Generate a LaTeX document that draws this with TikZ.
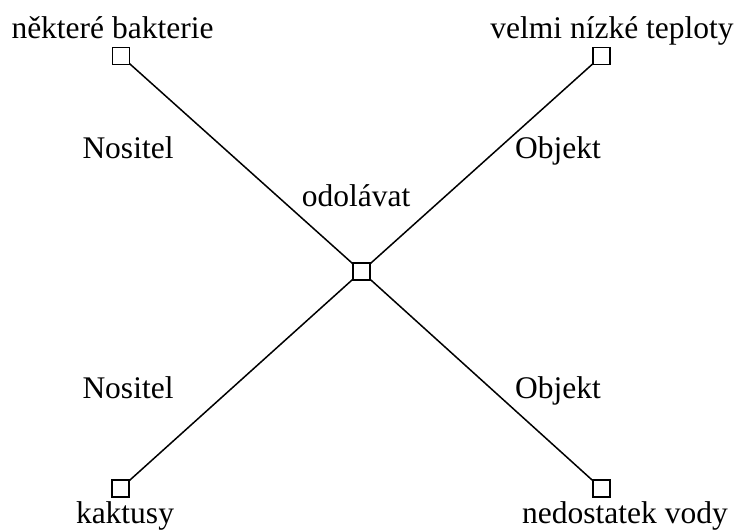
\documentclass[tikz,border=0pt]{standalone}
\usepackage{fontspec}
\setmainfont{Liberation Serif}
\begin{document}
\begin{tikzpicture}[x=1pt,y=-1pt,
  box/.style={draw,line width=1.5pt,minimum size=17pt,inner sep=0pt,outer sep=0pt},
  lbl/.style={anchor=base,inner sep=0pt,font=\fontsize{31.5}{36}\selectfont},
  link/.style={line width=1.5pt}]
\useasboundingbox (0,0) rectangle (741,530);
% concept boxes
\node[box] (c)  at (361.5,271.5) {};
\node[box] (tl) at (121,56) {};
\node[box] (tr) at (601.5,56) {};
\node[box] (bl) at (120.5,488.5) {};
\node[box] (br) at (601.5,488.5) {};
% connectors
\draw[link] (tl) -- (c);
\draw[link] (tr) -- (c);
\draw[link] (bl) -- (c);
\draw[link] (br) -- (c);
% texts
\node[lbl] (ttl) at (112.5,38) {některé bakterie};
\node[lbl] (ttr) at (612,38) {velmi nízké teploty};
\node[lbl] (tbl) at (125,523) {kaktusy};
\node[lbl] (tbr) at (625,523.5) {nedostatek vody};
\node[lbl] (tc)  at (356,206) {odolávat};
\node[lbl] (n1) at (128,158) {Nositel};
\node[lbl] (n2) at (128,398) {Nositel};
\node[lbl] (o1) at (558,158) {Objekt};
\node[lbl] (o2) at (558,398) {Objekt};
\end{tikzpicture}
\end{document}
